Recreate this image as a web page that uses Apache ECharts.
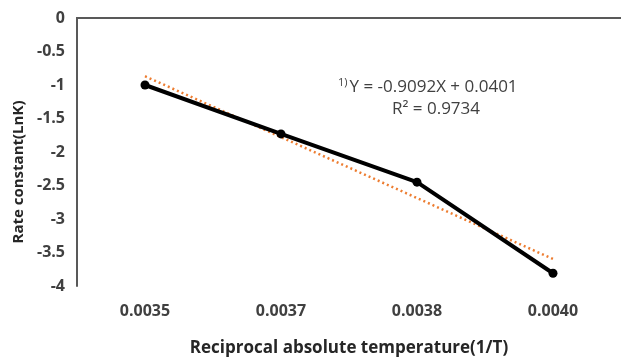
<!DOCTYPE html>
<html>
<head>
<meta charset="utf-8">
<script src="https://cdn.jsdelivr.net/npm/echarts@6/dist/echarts.min.js"></script>
<style>
  html, body { margin: 0; padding: 0; background: #fff; }
  #chart { width: 621px; height: 364px; }
</style>
</head>
<body>
<div id="chart"></div>
<script>
// reciprocal temperature categories and LnK values
const categories = ["0.0035", "0.0037", "0.0038", "0.0040"];
const lnK = [-1.0, -1.73, -2.45, -3.81];
// linear trendline values from y = -0.9092x + 0.0401 at x = 1..4
const trend = [-0.869, -1.778, -2.687, -3.597];

const labelFont = "'Open Sans', sans-serif";
const axisGray = "#595959";

const chart = echarts.init(document.getElementById("chart"));

chart.setOption({
   animation: false,
   grid: { left: 77, right: 0, top: 18, bottom: 78 },
   xAxis: [
      {
         type: "category",
         data: categories,
         boundaryGap: true,
         axisLine: { lineStyle: { color: axisGray, width: 2 } },
         axisTick: { show: false },
         axisLabel: {
            fontFamily: labelFont,
            fontSize: 16,
            fontWeight: "bold",
            color: "#404040",
            margin: 17,
         },
         name: "Reciprocal absolute temperature(1/T)",
         nameLocation: "middle",
         nameGap: 54,
         nameTextStyle: {
            fontFamily: labelFont,
            fontSize: 17,
            fontWeight: "bold",
            color: "#262626",
         },
      },
      {
         // top border of the plot
         type: "category",
         data: categories,
         position: "top",
         axisLine: { lineStyle: { color: axisGray, width: 2 } },
         axisTick: { show: false },
         axisLabel: { show: false },
      },
   ],
   yAxis: {
      type: "value",
      min: -4,
      max: 0,
      interval: 0.5,
      axisLine: { show: true, lineStyle: { color: axisGray, width: 2 } },
      axisTick: { show: false },
      splitLine: { show: false },
      axisLabel: {
         fontFamily: labelFont,
         fontSize: 16,
         fontWeight: "bold",
         color: "#404040",
         margin: 12,
      },
      name: "Rate constant(LnK)",
      nameLocation: "middle",
      nameGap: 50,
      nameTextStyle: {
         fontFamily: labelFont,
         fontSize: 15,
         fontWeight: "bold",
         color: "#262626",
         padding: [0, 40, 0, 0],
      },
   },
   series: [
      {
         name: "trend",
         type: "line",
         data: trend,
         showSymbol: false,
         lineStyle: { color: "#ED7D31", width: 2.5, type: [2, 3] },
         z: 1,
      },
      {
         name: "LnK",
         type: "line",
         data: lnK,
         symbol: "circle",
         symbolSize: 9,
         lineStyle: { color: "#000", width: 4 },
         itemStyle: { color: "#000" },
         z: 2,
      },
   ],
   graphic: [
      {
         type: "text",
         left: 338,
         top: 77,
         style: {
            text: "{sup|1)}{eq|Y = -0.9092X + 0.0401}",
            rich: {
               sup: { fontFamily: labelFont, fontSize: 11, fill: "#404040", verticalAlign: "top", padding: [0, 2, 9, 0] },
               eq: { fontFamily: labelFont, fontSize: 17, fill: "#404040" },
            },
         },
      },
      {
         type: "text",
         left: 392,
         top: 101,
         style: {
            text: "R² = 0.9734",
            fontFamily: labelFont,
            fontSize: 17,
            fill: "#404040",
         },
      },
   ],
});
</script>
</body>
</html>
